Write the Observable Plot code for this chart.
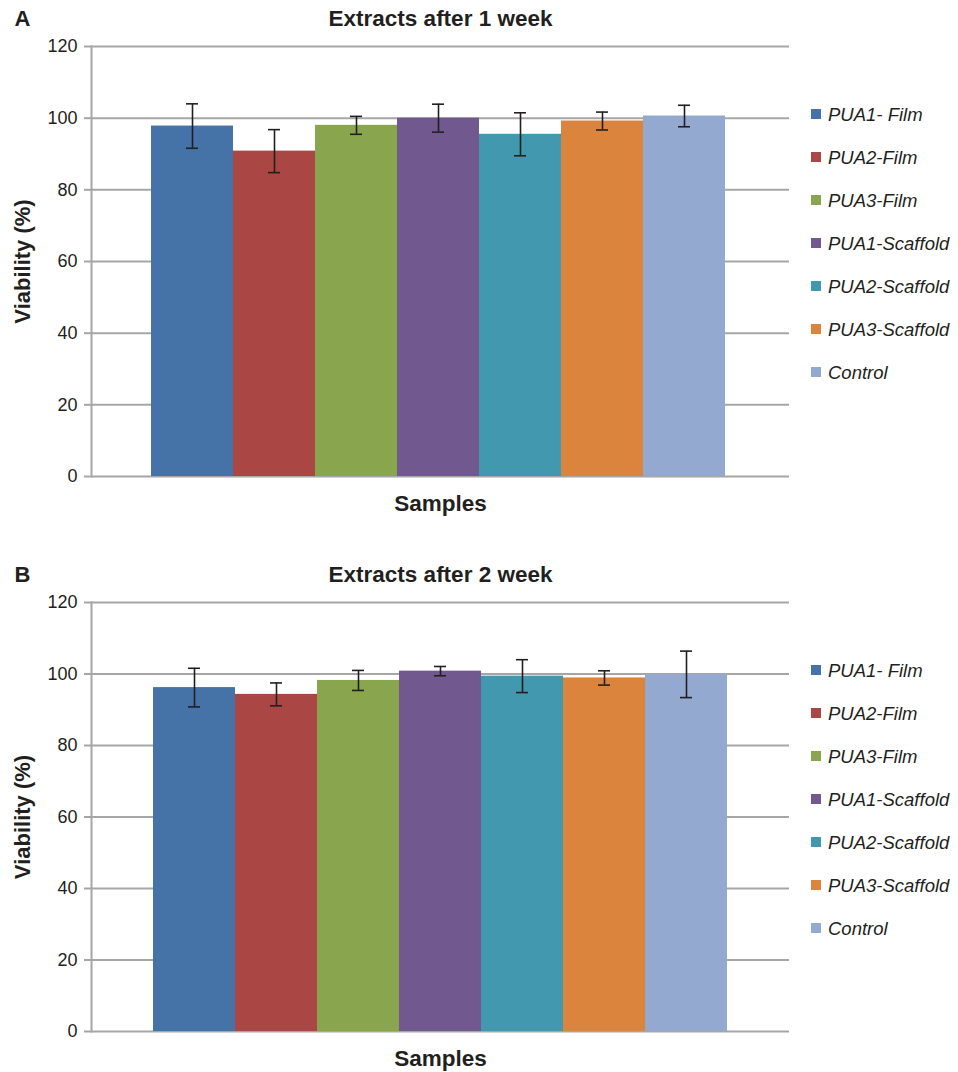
<!DOCTYPE html>
<html>
<head>
<meta charset="utf-8">
<script src="https://cdn.jsdelivr.net/npm/d3@7"></script>
<script src="https://cdn.jsdelivr.net/npm/@observablehq/plot@0.6"></script>
<style>
  html, body { margin: 0; padding: 0; background: #fff; }
  #root { position: relative; width: 958px; height: 1072px; overflow: hidden; font-family: "Liberation Sans", Arial, sans-serif; color: #231f20; }
  .panel { position: absolute; left: 0; }
  .legend { position: absolute; left: 811px; }
  .legend .item { position: absolute; left: 0; white-space: nowrap; font-style: italic; font-size: 18.5px; line-height: 20px; height: 20px; }
  .legend .sw { display: inline-block; width: 10px; height: 10px; vertical-align: middle; margin-right: 7px; position: relative; top: -2px; }
</style>
</head>
<body>
<div id="root"></div>
<script>
const categories = ["PUA1- Film", "PUA2-Film", "PUA3-Film", "PUA1-Scaffold", "PUA2-Scaffold", "PUA3-Scaffold", "Control"];
const colors = ["#4572A7", "#AA4643", "#89A54E", "#71588F", "#4198AF", "#DB843D", "#93A9CF"];
const week1Values = [97.8, 90.8, 98.0, 100.0, 95.5, 99.2, 100.6];
const week1Errors = [6.2, 6.0, 2.5, 3.9, 6.0, 2.5, 3.0];
const week2Values = [96.2, 94.3, 98.2, 100.8, 99.4, 98.9, 99.9];
const week2Errors = [5.4, 3.2, 2.8, 1.3, 4.6, 2.0, 6.5];
const yTicks = [0, 20, 40, 60, 80, 100, 120];
const panels = [
  {letter: "A", title: "Extracts after 1 week", values: week1Values, errors: week1Errors, top: 0, height: 530, marginBottom: 54, xRange: [151, 725]},
  {letter: "B", title: "Extracts after 2 week", values: week2Values, errors: week2Errors, top: 556, height: 516, marginBottom: 41, xRange: [153, 727]}
];

const root = document.getElementById("root");
const gridColor = "#a6a6a6";
const ink = "#231f20";

for (const p of panels) {
  const data = categories.map((c, i) => ({c, v: p.values[i], e: p.errors[i]}));
  const chart = Plot.plot({
    width: 790,
    height: p.height,
    marginTop: 46,
    marginBottom: p.marginBottom,
    marginLeft: 91,
    marginRight: 1,
    style: {fontFamily: "'Liberation Sans', Arial, sans-serif", fontSize: "18px", color: ink, background: "white", overflow: "visible"},
    x: {domain: categories, range: p.xRange, padding: 0, axis: null},
    y: {domain: [0, 120]},
    color: {domain: categories, range: colors},
    marks: [
      Plot.gridY(yTicks, {stroke: gridColor, strokeOpacity: 1, strokeWidth: 2}),
      Plot.axisY(yTicks, {tickSize: 7, tickPadding: 7, stroke: gridColor, strokeWidth: 2, label: null, fontSize: 18, fill: ink}),
      Plot.frame({anchor: "left", stroke: gridColor, strokeWidth: 2}),
      Plot.barY(data, {x: "c", y: "v", fill: "c"}),
      Plot.ruleX(data, {x: "c", y1: d => d.v - d.e, y2: d => d.v + d.e, stroke: ink, strokeWidth: 1.6}),
      Plot.tickY(data, {x: "c", y: d => d.v + d.e, insetLeft: 35, insetRight: 35, stroke: ink, strokeWidth: 1.6}),
      Plot.tickY(data, {x: "c", y: d => d.v - d.e, insetLeft: 35, insetRight: 35, stroke: ink, strokeWidth: 1.6}),
      Plot.text([p.title], {frameAnchor: "top", dy: -28, lineAnchor: "middle", fontWeight: "bold", fontSize: 22.5, fill: ink}),
      Plot.text([p.letter], {frameAnchor: "top-left", dx: -77, dy: -28, lineAnchor: "middle", textAnchor: "start", fontWeight: "bold", fontSize: 22, fill: ink}),
      Plot.text(["Viability (%)"], {frameAnchor: "left", dx: -69, rotate: -90, lineAnchor: "middle", textAnchor: "middle", fontWeight: "bold", fontSize: 22, fill: ink}),
      Plot.text(["Samples"], {frameAnchor: "bottom", dy: 27, lineAnchor: "middle", fontWeight: "bold", fontSize: 22.5, fill: ink})
    ]
  });
  const wrap = document.createElement("div");
  wrap.className = "panel";
  wrap.style.top = p.top + "px";
  wrap.appendChild(chart);
  root.appendChild(wrap);

  const legend = document.createElement("div");
  legend.className = "legend";
  legend.style.top = (p.top + 105) + "px";
  categories.forEach((c, i) => {
    const item = document.createElement("div");
    item.className = "item";
    item.style.top = (i * 43) + "px";
    const sw = document.createElement("span");
    sw.className = "sw";
    sw.style.background = colors[i];
    item.appendChild(sw);
    item.appendChild(document.createTextNode(c));
    legend.appendChild(item);
  });
  root.appendChild(legend);
}
</script>
</body>
</html>
